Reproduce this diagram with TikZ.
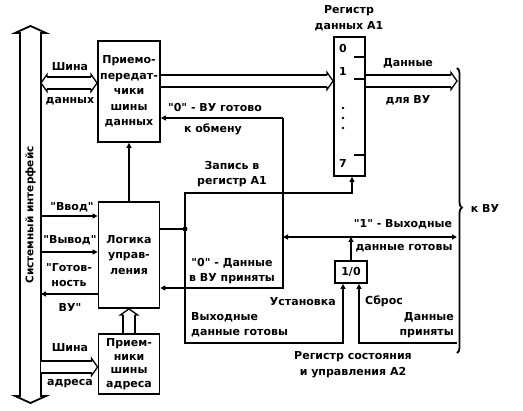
\documentclass[tikz,border=0pt]{standalone}
\usepackage{fontspec}
\setmainfont{DejaVu Sans}
\usetikzlibrary{arrows.meta,decorations.pathreplacing}
\newcommand\qm{\textquotedbl}

\begin{document}
\begin{tikzpicture}[x=1pt,y=-1pt,
        font=\fontsize{11}{15.5}\selectfont\bfseries,
        blk/.style={draw=black,rectangle,line width=1.8pt,inner sep=0pt,align=center},
        sig/.style={line width=1.8pt,-{Triangle[length=5pt,width=5pt]}},
        bus/.style={line width=1.8pt,double,double distance=10pt,shorten >=6pt},
        bushead/.pic={\draw[line width=1.3pt,line join=miter] (-6,-5.9) -- (-6,-8.5) -- (0,0) -- (-6,8.5) -- (-6,5.9);},
        txt/.style={inner sep=0pt,align=center}
      ]
      \useasboundingbox (0,0) rectangle (523,411);
      % blocks
      \node[blk,minimum width=62pt,minimum height=101pt] (trx) at (129,91.5) {Приемо-\\передат-\\чики\\шины\\данных};
      \node[blk,minimum width=61pt,minimum height=106pt] (logic) at (129,255) {Логика\\управ-\\ления};
      \node[blk,minimum width=61pt,minimum height=60pt,font=\fontsize{11}{13.5}\selectfont\bfseries] (addr) at (129,364) {Прием-\\ники\\шины\\адреса};
      \node[blk,minimum width=31pt,minimum height=139pt] (rega) at (349.5,106.5) {};
      \node[blk,minimum width=32pt,minimum height=22pt] (flag) at (351,272) {1/0};
      % system interface
      \node[minimum width=21pt,minimum height=363pt,inner sep=0pt,outer sep=0pt] (sif) at (30.5,214.5) {};
      \draw[line width=1.8pt] (sif.north west) -- ++(-5,0) -- ([yshift=7pt]sif.north) -- ([xshift=5pt]sif.north east) -- (sif.north east)
        -- (sif.south east) -- ([xshift=5pt]sif.south east) -- ([yshift=-7pt]sif.south) -- ([xshift=-5pt]sif.south west) -- (sif.south west) -- cycle;
      \node[txt,rotate=90,font=\fontsize{10.5}{15.5}\selectfont\bfseries] (siflab) at (30.5,215) {Системный интерфейс};
      % levels
      \coordinate (dbus) at (0,83);
      \coordinate (obus) at (0,81);
      \coordinate (abus) at (0,367);
      \coordinate (vvod) at (0,216);
      \coordinate (vyvod) at (0,252);
      \coordinate (gotov) at (0,294);
      \coordinate (brtop) at (457,68);
      \coordinate (brbot) at (457,353);
      \coordinate (rdytop) at (283,118);
      \coordinate (rdybot) at (283,288);
      \coordinate (rdy) at (283,237);
      \coordinate (wr) at (185,229);
      \coordinate (wrtop) at (352,193);
      \coordinate (setb) at (185,343);
      % buses
      \draw[bus,shorten <=6pt] (sif.east |- dbus) -- (trx.west |- dbus);
      \pic[rotate=180] at (sif.east |- dbus) {bushead};
      \pic at (trx.west |- dbus) {bushead};
      \draw[bus] (trx.east |- obus) -- (rega.west |- obus);
      \pic at (rega.west |- obus) {bushead};
      \draw[bus] (rega.east |- obus) -- (brtop |- obus);
      \pic at (brtop |- obus) {bushead};
      \draw[bus] (sif.east |- abus) -- (addr.west |- abus);
      \pic at (addr.west |- abus) {bushead};
      \draw[bus] (addr.north) -- (logic.south);
      \pic[rotate=90] at (logic.south) {bushead};
      % register A1
      \draw[line width=1.8pt] (rega.east |- 0,57) -- ++(-12,0);
      \draw[line width=1.8pt] (rega.east |- 0,79) -- ++(-12,0);
      \draw[line width=1.8pt] (rega.east |- 0,155) -- ++(-12,0);
      \node[txt] (b0) at (343,49) {0};
      \node[txt] (b1) at (343,71) {1};
      \node[txt] (b7) at (343,163) {7};
      \foreach \y in {108,118,128} \fill (343,\y) circle (1.3pt);
      % control signals
      \draw[sig] (sif.east |- vvod) -- (logic.west |- vvod);
      \draw[sig] (sif.east |- vyvod) -- (logic.west |- vyvod);
      \draw[sig] (logic.west |- gotov) -- (sif.east |- gotov);
      \draw[sig] (logic.north) -- (trx.south);
      \draw[sig] (rdytop) -- (trx.east |- rdytop);
      \draw[sig] (rdytop) -- (rdybot) -- (logic.east |- rdybot);
      \draw[sig,{Triangle[length=5pt,width=5pt]}-{Triangle[length=5pt,width=5pt]}] (rdy) -- (brtop |- rdy);
      \draw[sig] (flag.north) -- (flag.north |- rdy);
      \draw[line width=1.8pt] (logic.east |- wr) -- (wr);
      \fill (wr) circle (2.5pt);
      \draw[sig] (wr) |- (wrtop) -- (wrtop |- rega.south);
      \draw[sig] (wr) -- (setb) -| ([xshift=-8pt]flag.south);
      \draw[sig] (brtop |- setb) -| ([xshift=8pt]flag.south);
      \draw[line width=1.8pt,decorate,decoration={brace,amplitude=5pt,aspect=0.49}] (brtop) -- (brbot);
      % labels
      \node[txt] (l1) at (70,67) {Шина};
      \node[txt] (l2) at (70,101) {данных};
      \node[txt] (l3) at (72,207) {\qm Ввод\qm};
      \node[txt] (l4) at (70,240) {\qm Вывод\qm};
      \node[txt] (l5) at (69,275) {\qm Готов-\\ность};
      \node[txt] (l6) at (70,307) {ВУ\qm};
      \node[txt] (l7) at (70,348) {Шина};
      \node[txt] (l8) at (70,384) {адреса};
      \node[txt] (l9) at (349,18.5) {Регистр\\данных А1};
      \node[txt] (l10) at (408,63) {Данные};
      \node[txt] (l11) at (408,100) {для ВУ};
      \node[txt] (l12) at (215,108) {\qm 0\qm{} - ВУ готово};
      \node[txt] (l13) at (213,129) {к обмену};
      \node[txt] (l14) at (232,174) {Запись в\\регистр А1};
      \node[txt] (l15) at (232,271) {\qm 0\qm{} - Данные\\в ВУ приняты};
      \node[txt] (l16) at (403,224) {\qm 1\qm{} - Выходные};
      \node[txt] (l17) at (404,248) {данные готовы};
      \node[txt,anchor=east] (l18) at (336,302) {Установка};
      \node[txt,anchor=west] (l19) at (365,301) {Сброс};
      \node[txt,anchor=east,align=right] (l20) at (454,325) {Данные\\приняты};
      \node[txt,anchor=west,align=left] (l21) at (191,325) {Выходные\\данные готовы};
      \node[txt] (l22) at (353,364.5) {Регистр состояния\\и управления А2};
      \node[txt] (l23) at (485,208) {к ВУ};
    \end{tikzpicture}
\end{document}
